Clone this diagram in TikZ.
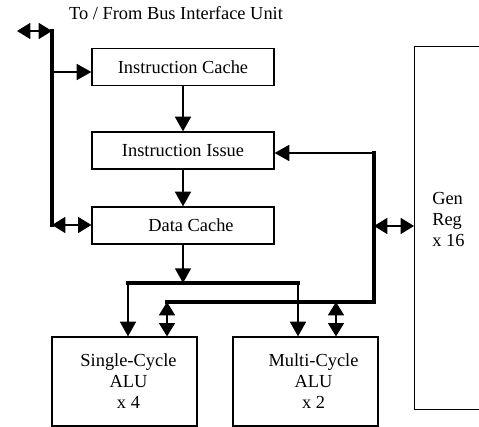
\documentclass[tikz,border=0pt]{standalone}
\usepackage{fontspec}
\setmainfont{Liberation Serif}
\usetikzlibrary{arrows.meta,positioning}
\tikzset{
  blk/.style={draw,line width=0.9pt,rectangle,inner sep=0pt,align=center,
    font=\fontsize{13.8}{15.75}\selectfont},
  unit/.style={blk,minimum width=136.5pt,minimum height=27.75pt},
  alu/.style={blk,minimum width=108.75pt,minimum height=66.75pt},
  arr/.style={line width=1.1pt,-{Triangle[length=11pt,width=12pt]}},
  dbl/.style={line width=1.1pt,{Triangle[length=10pt,width=12pt]}-{Triangle[length=10pt,width=12pt]}},
  bus/.style={line width=2.4pt,line cap=rect},
}

\begin{document}
\begin{tikzpicture}[x=0.75pt,y=-0.75pt]
      \useasboundingbox (0,0) rectangle (479,427);
      \clip (0,0) rectangle (479,427);

      \node[font=\fontsize{13.8}{15.75}\selectfont] (title) at (176,13) {To / From Bus Interface Unit};

      \node[unit] (icache) at (183,67) {Instruction Cache};
      \node[unit] (issue) at (183,150.5) {Instruction Issue};
      \node[unit] (dcache) at (183,225.5) {\hspace*{12pt}Data Cache};
      \node[alu] (single) at (124.5,381.5) {\hspace*{6pt}Single-Cycle\\\hspace*{6pt}ALU\\\hspace*{6pt}x 4};
      \node[alu] (multi) at (305.5,381.5) {\hspace*{12pt}Multi-Cycle\\\hspace*{12pt}ALU\\\hspace*{12pt}x 2};
      \node[blk,minimum width=79.5pt,minimum height=272.25pt,anchor=north west] (genreg) at (414,46) {};
      \node[font=\fontsize{13.8}{15.75}\selectfont,align=left,anchor=west,inner sep=0pt] (genlbl) at (432,220) {Gen\\Reg\\x 16};

      \coordinate (biu) at (17,31);
      \coordinate (bustop) at (52,31);
      \coordinate (busbot) at (52,225);
      \coordinate (busic) at (52,72);
      \coordinate (fork) at (183,283);
      \coordinate (fl) at (128,283);
      \coordinate (fr) at (298,283);
      \coordinate (rtop) at (374,153);
      \coordinate (rbot) at (374,302);
      \coordinate (rl) at (167,302);
      \coordinate (rm) at (336,302);
      \coordinate (rg) at (374,226);

      \draw[dbl] (biu) -- (bustop);
      \draw[bus] (bustop) -- (busbot);
      \draw[arr] (busic) -- (busic -| icache.west);
      \draw[dbl] (busbot) -- (busbot -| dcache.west);

      \draw[arr] (icache) -- (issue);
      \draw[arr] (issue) -- (dcache);
      \draw[arr] (dcache) -- (fork);

      \draw[bus] (fl) -- (fr);
      \draw[arr] (fl) -- (fl |- single.north);
      \draw[arr] (fr) -- (fr |- multi.north);

      \draw[arr] (rtop) -- (rtop -| issue.east);
      \draw[bus] (rtop) -- (rbot) -- (rl);
      \draw[dbl] (rl) -- (rl |- single.north);
      \draw[dbl] (rm) -- (rm |- multi.north);
      \draw[dbl] (rg) -- (rg -| genreg.west);
    \end{tikzpicture}
\end{document}
